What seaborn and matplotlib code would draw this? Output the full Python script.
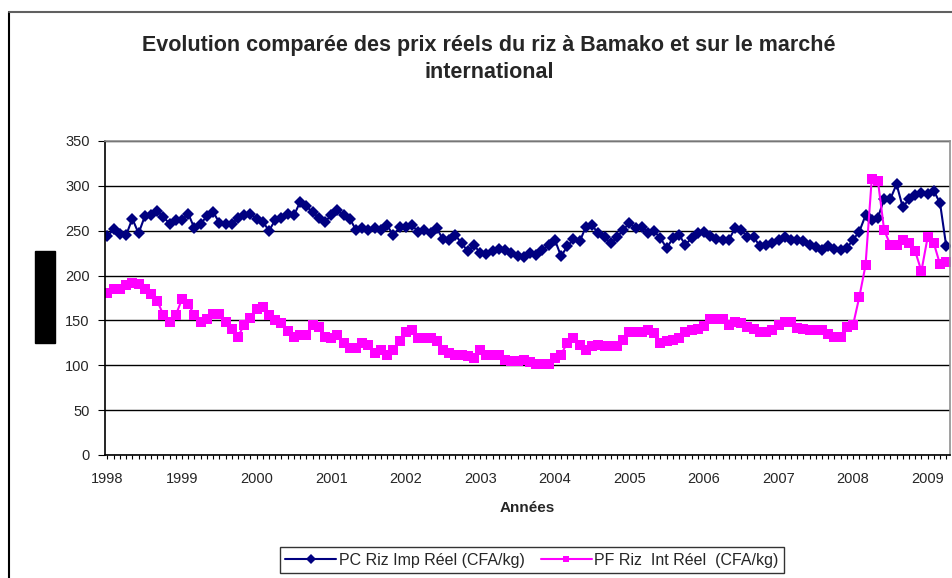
import matplotlib
matplotlib.use("Agg")
import matplotlib.pyplot as plt
from matplotlib.lines import Line2D
from matplotlib.patches import Rectangle
from matplotlib.ticker import FixedLocator, FuncFormatter
import pandas as pd
import seaborn as sns

# monthly real prices, Jan 1998 .. Apr 2009 (CFA/kg)
pc_riz_imp = [
    244, 251.5, 246, 245, 263.5, 247, 266, 267, 272, 265, 258, 262,
    262, 269, 252.5, 258, 266, 271, 259, 257, 257, 264.5, 267, 269,
    263.5, 260, 250, 262, 264.5, 269, 267, 282, 277, 271, 264.5, 260,
    267, 272.6, 267, 263.5, 250.7, 252.5, 250.7, 252.5, 250.7, 256, 245, 253.6,
    254, 256, 249, 250.7, 247, 252.5, 240.5, 240, 245, 236, 227, 234,
    225, 224.5, 227, 229.6, 229, 225, 222, 221, 225, 223, 228, 234,
    240, 221.5, 232.5, 240.5, 238, 254.4, 256, 247, 242.7, 236, 242.7, 250.7,
    258.8, 252.5, 254.4, 247.8, 249.6, 241.6, 230.7, 241.6, 245.3, 234.3, 241.6, 247,
    249, 244, 241, 240, 240, 252.5, 250.7, 243.4, 242.7, 233, 234.3, 236,
    240, 242.7, 240, 240, 239, 234.3, 231.7, 229, 232.5, 229.6, 229, 230.7,
    240, 249, 267, 261.7, 264.6, 285.4, 285.4, 301.8, 276, 285.4, 290, 291.6,
    291, 294.5, 280.6, 232.5,
]
pf_riz_int = [
    181, 185, 185, 190, 192, 191, 185, 180, 172, 156, 148, 156,
    174, 168, 156, 148, 152, 157, 157, 148, 141, 132, 145, 153,
    163, 165, 156, 150, 147, 138, 132, 134, 134, 145, 143, 132,
    130, 134, 125, 119, 119, 125, 123, 114, 117.5, 112, 117.5, 126.6,
    137.6, 139.4, 130, 130, 130, 126.6, 117.5, 114, 112, 112, 110, 108.4,
    117.5, 112, 112, 111, 106, 105, 105, 106, 104, 101, 101, 101,
    108, 112, 125, 130, 123, 117.5, 121, 123, 121, 121, 121, 128.5,
    137.6, 137.6, 137.6, 139.4, 135.8, 125, 126.6, 128.5, 130, 137.6, 139.4, 141,
    144, 152, 152, 151.5, 145, 148, 146.7, 143, 141, 137.6, 136.9, 139.4,
    145, 148.5, 148.5, 142, 141, 139.4, 139.4, 139.4, 134.7, 132, 132, 143,
    145, 176, 211.3, 307.3, 305.5, 250.7, 234.3, 234.3, 240, 236, 227, 205,
    242.7, 236, 212.4, 215,
]
years = list(range(1998, 2010))
labels = ["PC Riz Imp Réel (CFA/kg)", "PF Riz  Int Réel  (CFA/kg)"]
colors = ["#000080", "#FF00FF"]

n = len(pc_riz_imp)
df = pd.DataFrame({
    "mois": list(range(n)) * 2,
    "prix": pc_riz_imp + pf_riz_int,
    "serie": [labels[0]] * n + [labels[1]] * n,
})

sns.set_style("white")
plt.rcParams["font.family"] = ["Liberation Sans", "DejaVu Sans"]

fig = plt.figure(figsize=(9.53, 5.78), dpi=100)
ax = fig.add_axes([105 / 953, 1 - 455 / 578, 845 / 953, 314 / 578])

sns.lineplot(data=df[df.serie == labels[0]], x="mois", y="prix", ax=ax,
             color=colors[0], marker="D", markersize=6.5, markeredgewidth=0,
             linewidth=1.5, legend=False)
sns.lineplot(data=df[df.serie == labels[1]], x="mois", y="prix", ax=ax,
             color=colors[1], marker="s", markersize=7.5, markeredgewidth=0,
             linewidth=1.5, legend=False)

ax.set_xlim(-0.4, 135.6)
ax.set_ylim(0, 350)
ax.set_yticks(range(0, 351, 50))
ax.yaxis.grid(True, color="black", linewidth=1)
ax.set_axisbelow(True)

ax.xaxis.set_major_locator(FixedLocator(range(n)))
ax.xaxis.set_major_formatter(FuncFormatter(
    lambda v, p: str(years[int(v) // 12]) if int(v) % 12 == 0 else ""))
ax.tick_params(axis="x", direction="out", length=3, width=0.8, color="black",
               labelsize=10.5, pad=9, bottom=True)
ax.tick_params(axis="y", direction="out", length=5, width=0.8, color="black",
               labelsize=10.5, pad=6, left=True)

for s in ["left", "bottom"]:
    ax.spines[s].set_color("black")
    ax.spines[s].set_linewidth(1.2)
for s in ["top", "right"]:
    ax.spines[s].set_color("#909090")
    ax.spines[s].set_linewidth(1.2)

ax.set_xlabel("Années", fontsize=11, fontweight="bold", labelpad=11)
ax.set_ylabel("")

fig.text(0.513, 1 - 45 / 578, "Evolution comparée des prix réels du riz à Bamako et sur le marché",
         ha="center", va="center", fontsize=15.5, fontweight="bold")
fig.text(0.513, 1 - 73 / 578, "international",
         ha="center", va="center", fontsize=15.5, fontweight="bold")

# outer chart frame (left and top edges visible) and the black box on the left
fig.add_artist(Line2D([9 / 953, 9 / 953], [0, 1 - 12 / 578], transform=fig.transFigure,
                      color="black", linewidth=1.5))
fig.add_artist(Line2D([9 / 953, 952 / 953], [1 - 12 / 578, 1 - 12 / 578],
                      transform=fig.transFigure, color="#606060", linewidth=1.5))
fig.add_artist(Rectangle((35 / 953, 1 - 343 / 578), 20 / 953, 92 / 578,
                         transform=fig.transFigure, color="black"))

handles = [
    Line2D([], [], color=colors[0], marker="D", markersize=5, markeredgewidth=0, linewidth=1.5),
    Line2D([], [], color=colors[1], marker="s", markersize=5, markeredgewidth=0, linewidth=1.5),
]
leg = fig.legend(handles, labels, loc="upper center", bbox_to_anchor=(532 / 953, 1 - 547 / 578),
                 ncol=2, fontsize=11.5, frameon=True, fancybox=False, edgecolor="black",
                 handlelength=3.2, handletextpad=0.15, columnspacing=1.0, borderpad=0.35,
                 borderaxespad=0)
leg.get_frame().set_linewidth(1.0)

fig.savefig("out.png", dpi=100, facecolor="white")
